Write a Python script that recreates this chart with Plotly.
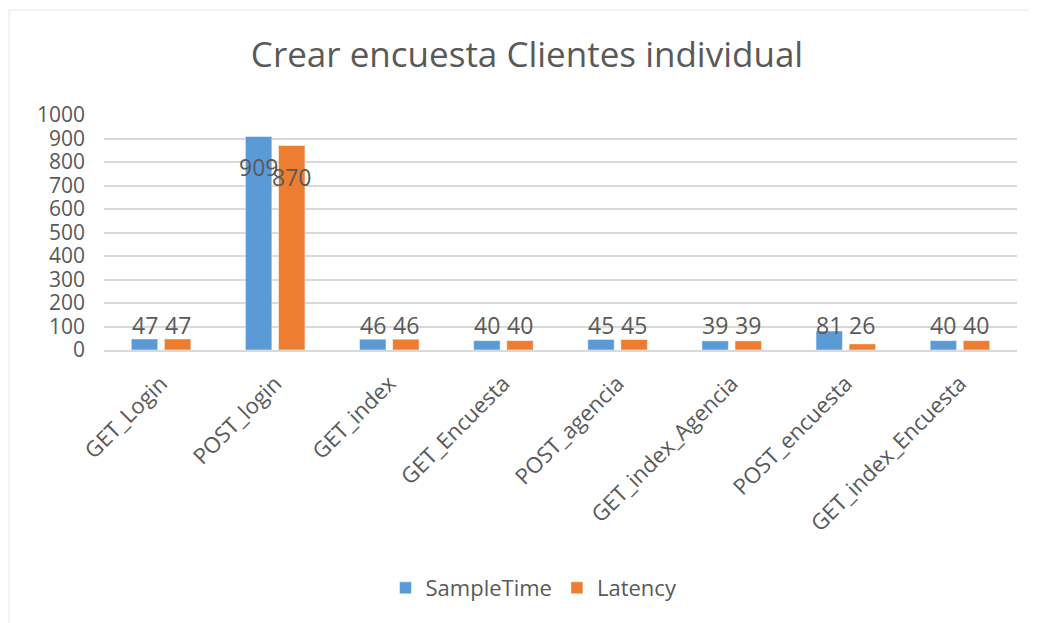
import plotly.graph_objects as go

# data
requests = ['GET_Login', 'POST_login', 'GET_index', 'GET_Encuesta',
            'POST_agencia', 'GET_index_Agencia', 'POST_encuesta', 'GET_index_Encuesta']
sample_time = [47, 909, 46, 40, 45, 39, 81, 40]
latency = [47, 870, 46, 40, 45, 39, 26, 40]
y_ticks = [0, 100, 200, 300, 400, 500, 600, 700, 800, 900, 1000]

# figure sits in the page with an 8px body margin -> shrink so it fits the window
this_width = 1029
this_height = 615
font_name = 'Open Sans'
txt_color = '#595959'
grid_color = '#D9D9D9'
blue = '#5B9BD5'
orange = '#ED7D31'
label_level = 106  # excel puts the small-bar labels on one line

fig = go.Figure()
fig.add_trace(go.Bar(x=requests, y=sample_time, name='SampleTime', marker_color=blue))
fig.add_trace(go.Bar(x=requests, y=latency, name='Latency', marker_color=orange))

# data labels, excel style (big bars get the label pushed inside)
for series, shift in [(sample_time, -16.5), (latency, 16.5)]:
    for cat, val in zip(requests, series):
        if val > 800:
            fig.add_annotation(x=cat, y=val, text=str(val), showarrow=False,
                               xshift=shift, yshift=-31, yanchor='middle')
        else:
            fig.add_annotation(x=cat, y=label_level, text=str(val), showarrow=False,
                               xshift=shift, yanchor='middle')
fig.update_annotations(font=dict(family=font_name, size=23, color=txt_color))

# light chart border, only left + top edges show in the screenshot
border = dict(color=grid_color, width=2)
fig.add_shape(type='line', xref='paper', yref='paper', x0=-0.104, x1=-0.104,
              y0=-1.3, y1=1.447, line=border, layer='below')
fig.add_shape(type='line', xref='paper', yref='paper', x0=-0.104, x1=1.1,
              y0=1.447, y1=1.447, line=border, layer='below')

fig.update_layout(
    width=this_width,
    height=this_height,
    margin=dict(l=96, r=20, t=107, b=273),
    template='simple_white',
    barmode='group',
    bargap=0.42,
    bargroupgap=0.2,
    font=dict(family=font_name, size=22, color=txt_color),
    title=dict(text='Crear encuesta Clientes individual', x=0.5044, xanchor='center',
               y=0.9236, yanchor='middle', font=dict(size=35, color=txt_color)),
    legend=dict(orientation='h', x=0.471, xanchor='center', y=-1.013, yanchor='middle',
                font=dict(size=22, color=txt_color), bgcolor='rgba(0,0,0,0)'),
    plot_bgcolor='white',
    paper_bgcolor='white',
)
fig.update_yaxes(range=[0, 1000], tickvals=y_ticks, showgrid=True, gridcolor=grid_color,
                 gridwidth=2, showline=False, ticks='', ticklabelstandoff=18,
                 tickfont_size=21, zeroline=False, automargin=False)
fig.update_xaxes(tickangle=-45, showline=True, linecolor=grid_color, linewidth=2,
                 ticks='', ticklabelstandoff=10, automargin=False)
# no scrollbars in the page
fig.write_html('out.html', post_script="document.body.style.overflow='hidden';")
